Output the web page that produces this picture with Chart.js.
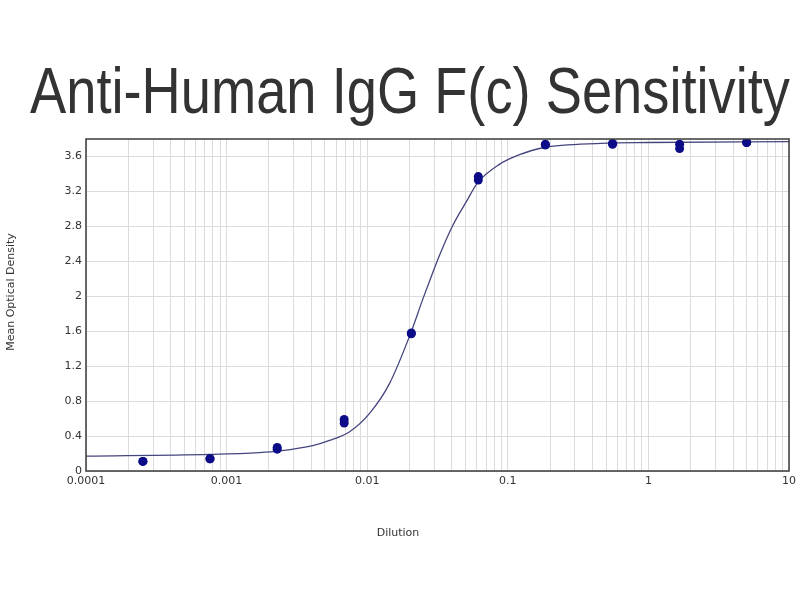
<!DOCTYPE html>
<html>
<head>
<meta charset="utf-8">
<script src="https://cdn.jsdelivr.net/npm/chart.js@4.4.1/dist/chart.umd.min.js"></script>
<style>
html, body { margin: 0; padding: 0; background: #fff; }
canvas { display: block; }
</style>
</head>
<body>
<canvas id="sensitivityChart" width="800" height="600"></canvas>
<script>
// 3-fold dilution series, two replicate wells per dilution
const dilutions = [0.000254, 0.000762, 0.00229, 0.00686, 0.0206, 0.0617, 0.185, 0.556, 1.667, 5];
const replicateA = [0.11, 0.14, 0.25, 0.55, 1.57, 3.33, 3.73, 3.74, 3.69, 3.76];
const replicateB = [0.11, 0.14, 0.27, 0.59, 1.58, 3.37, 3.74, 3.75, 3.74, 3.76];

// fitted curve
const curveX = [0.0001, 0.00076, 0.0017, 0.0024, 0.0041, 0.0054, 0.0075, 0.0104, 0.0144, 0.0203, 0.0249, 0.0277, 0.0327, 0.0406, 0.0506, 0.0611, 0.0871, 0.121, 0.177, 0.46, 1, 10];
const curveY = [0.17, 0.19, 0.21, 0.23, 0.29, 0.35, 0.45, 0.66, 1.00, 1.57, 1.97, 2.17, 2.47, 2.81, 3.08, 3.30, 3.51, 3.62, 3.70, 3.75, 3.76, 3.77];

// axes
const decades = [0.0001, 0.001, 0.01, 0.1, 1, 10];
const decadeLabels = ['0.0001', '0.001', '0.01', '0.1', '1', '10'];
const minorSteps = [1, 2, 3, 4, 5, 6, 7, 8, 9];
const yTicks = [0, 0.4, 0.8, 1.2, 1.6, 2, 2.4, 2.8, 3.2, 3.6];

const inkColor = '#333333';
const dotColor = '#0c0c88';
const gridColor = '#dcdcdc';

function xGridTicks() {
    const ticks = [];
    decades.slice(0, -1).forEach(d => minorSteps.forEach(m => ticks.push({ value: d * m })));
    ticks.push({ value: decades[decades.length - 1] });
    return ticks;
}

function decadeLabel(value) {
    const i = decades.findIndex(d => Math.abs(value / d - 1) < 1e-6);
    return i >= 0 ? decadeLabels[i] : '';
}

const toPoints = (xs, ys) => xs.map((x, i) => ({ x, y: ys[i] }));

// frame round the plot, and axis titles centred the way the original places them
const plotFrame = {
    id: 'plotFrame',
    afterDraw(chart) {
        const { ctx, chartArea: a } = chart;
        ctx.save();
        ctx.strokeStyle = '#3a3a3a';
        ctx.lineWidth = 1.5;
        ctx.strokeRect(a.left, a.top, a.right - a.left, a.bottom - a.top);

        ctx.fillStyle = inkColor;
        ctx.font = '11px "DejaVu Sans"';
        ctx.textAlign = 'center';
        ctx.textBaseline = 'middle';
        ctx.fillText('Dilution', 398, 533);
        ctx.translate(11, 292);
        ctx.rotate(-Math.PI / 2);
        ctx.fillText('Mean Optical Density', 0, 0);
        ctx.restore();
    },
};

new Chart(document.getElementById('sensitivityChart'), {
    type: 'scatter',
    data: {
        datasets: [
            {
                label: 'Replicate 1',
                data: toPoints(dilutions, replicateA),
                backgroundColor: dotColor,
                borderColor: dotColor,
                pointRadius: 4.5,
                borderWidth: 0,
            },
            {
                label: 'Replicate 2',
                data: toPoints(dilutions, replicateB),
                backgroundColor: dotColor,
                borderColor: dotColor,
                pointRadius: 4.5,
                borderWidth: 0,
            },
            {
                label: 'Fit',
                data: toPoints(curveX, curveY),
                showLine: true,
                borderColor: '#45457e',
                borderWidth: 1.3,
                pointRadius: 0,
                cubicInterpolationMode: 'monotone',
                fill: false,
            },
        ],
    },
    options: {
        responsive: false,
        animation: false,
        devicePixelRatio: 1,
        // the title box runs 30..790, so the long title is fitted into it
        layout: { padding: { left: 30, right: 10, top: 0, bottom: 0 } },
        plugins: {
            legend: { display: false },
            tooltip: { enabled: false },
            title: {
                display: true,
                text: 'Anti-Human IgG F(c) Sensitivity',
                color: inkColor,
                font: { family: '"Liberation Sans", Arial, sans-serif', size: 65, weight: 'normal' },
                padding: { top: 56, bottom: 5 },
            },
        },
        scales: {
            x: {
                type: 'logarithmic',
                min: 0.0001,
                max: 10,
                afterBuildTicks: scale => { scale.ticks = xGridTicks(); },
                afterFit: scale => { scale.height = 129; },
                grid: { color: gridColor, drawTicks: false },
                border: { display: false },
                ticks: {
                    autoSkip: false,
                    maxRotation: 0,
                    padding: 4,
                    color: inkColor,
                    font: { family: '"DejaVu Sans"', size: 11 },
                    callback: value => decadeLabel(value),
                },
            },
            y: {
                min: 0,
                max: 3.8,
                afterBuildTicks: scale => { scale.ticks = yTicks.map(v => ({ value: v })); },
                afterFit: scale => { scale.width = 56; },
                grid: { color: gridColor, drawTicks: false },
                border: { display: false },
                ticks: {
                    padding: 4,
                    color: inkColor,
                    font: { family: '"DejaVu Sans"', size: 11 },
                    callback: value => String(+value.toFixed(1)),
                },
            },
        },
    },
    plugins: [plotFrame],
});
</script>
</body>
</html>
